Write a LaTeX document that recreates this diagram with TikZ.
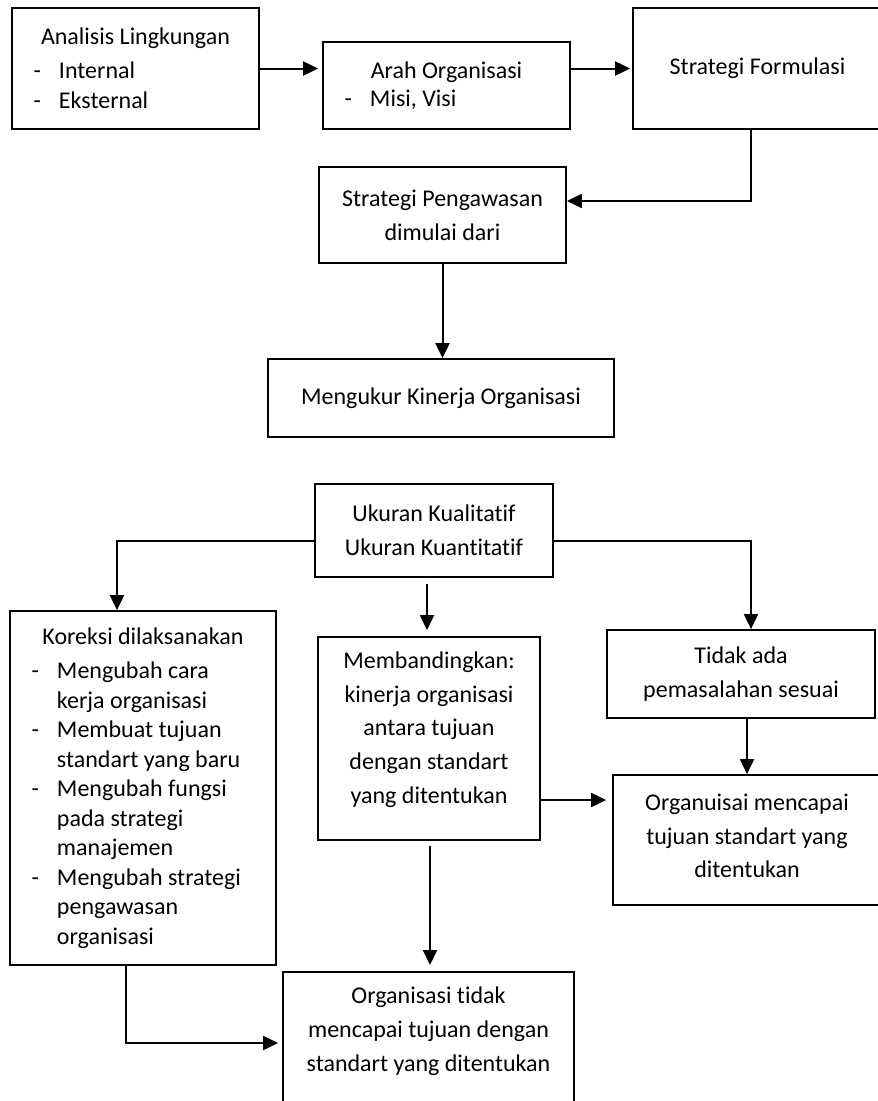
\documentclass[tikz,border=0pt]{standalone}
\usepackage{fontspec}
\setmainfont{Carlito}[Ligatures=NoCommon]
\usetikzlibrary{arrows.meta}

\tikzset{
  kotak/.style={draw, line width=1.8pt, inner sep=0pt, align=center,
    font=\fontsize{24pt}{33.7pt}\selectfont},
  daftar/.style={kotak, align=left, font=\fontsize{24pt}{29.5pt}\selectfont},
  pijl/.style={line width=2pt, -{Triangle[length=15pt,width=14pt]}},
}
% judul di tengah, lalu butir dengan tanda -
\newcommand{\judul}[1]{\spaceskip=0pt\xspaceskip=0pt\noindent\makebox[\hsize]{#1}\par}
\newcommand{\butir}[1]{\par\hangindent=47pt\hangafter=1\noindent\hspace*{21.5pt}\makebox[25.5pt][l]{-}#1\par}

\begin{document}
\begin{tikzpicture}[x=1pt,y=-1pt]
  \useasboundingbox (0,0) rectangle (878,1101);
  \clip (0,0) rectangle (878,1101);
  % baris atas
  \node[daftar, text width=247pt, minimum height=121pt] (analisis) at (135.5,68.5)
    {\judul{Analisis Lingkungan}\vspace{4.5pt}\butir{Internal}\butir{Eksternal}};
  \node[daftar, text width=247pt, minimum height=87pt] (arah) at (446.5,85.5)
    {\judul{Arah Organisasi}\vspace{-2pt}\butir{Misi, Visi}};
  \node[kotak, minimum width=249pt, minimum height=121pt] (formulasi) at (757.5,68.5)
    {Strategi Formulasi};
  \node[kotak, minimum width=247pt, minimum height=96pt] (pengawasan) at (442.5,215)
    {Strategi Pengawasan\\dimulai dari};
  \node[kotak, minimum width=346pt, minimum height=78pt] (kinerja) at (441,398)
    {Mengukur Kinerja Organisasi};
  % ukuran
  \node[kotak, minimum width=238pt, minimum height=93pt] (ukuran) at (434,530.5)
    {Ukuran Kualitatif\\Ukuran Kuantitatif};
  \node[daftar, text width=266pt, minimum height=354pt] (koreksi) at (143,788)
    {\judul{Koreksi dilaksanakan}\vspace{4.5pt}%
     \butir{Mengubah cara\newline kerja organisasi}%
     \butir{Membuat tujuan\newline standart yang baru}%
     \butir{Mengubah fungsi\newline pada strategi\newline manajemen}%
     \butir{Mengubah strategi\newline pengawasan\newline organisasi}};
  \node[kotak, minimum width=222pt, minimum height=203pt, text depth=22pt] (banding) at (429,738.5)
    {Membandingkan:\\kinerja organisasi\\antara tujuan\\dengan standart\\yang ditentukan};
  \node[kotak, minimum width=268pt, minimum height=88pt] (tidakada) at (741,674)
    {Tidak ada\\pemasalahan sesuai};
  \node[kotak, minimum width=268pt, minimum height=130pt, text depth=8pt] (capai) at (747,840)
    {Organuisai mencapai\\tujuan standart yang\\ditentukan};
  \node[kotak, minimum width=291pt, text height=99.4pt, text depth=150pt, anchor=north] (tidakcapai) at (428.5,971)
    {Organisasi tidak\\mencapai tujuan dengan\\standart yang ditentukan};
  % panah
  \draw[pijl, shorten >=4pt] (analisis.east) -- (analisis.east -| arah.west);
  \draw[pijl, shorten >=2pt] (arah.east |- formulasi.west) -- (formulasi.west);
  \draw[pijl] ([xshift=-6.5pt]formulasi.south) |- ([yshift=14pt]pengawasan.east);
  \draw[pijl] (pengawasan.south) -- (pengawasan.south |- kinerja.north);
  \draw[pijl] ([yshift=-10pt]ukuran.west) -| ([xshift=-26pt]koreksi.north);
  \draw[pijl, shorten <=6pt, shorten >=6pt] ([xshift=-2pt]banding.north |- ukuran.south) -- ([xshift=-2pt]banding.north);
  \draw[pijl] ([yshift=-10pt]ukuran.east) -| ([xshift=10pt]tidakada.north);
  \draw[pijl] (tidakada.south -| capai.north) -- (capai.north);
  \draw[pijl, shorten >=6pt] ([yshift=-61.5pt]banding.east) -- ([yshift=-61.5pt]banding.east -| capai.west);
  \draw[pijl, shorten <=5pt, shorten >=6pt] ([xshift=1pt]banding.south) -- ([xshift=1pt]banding.south |- tidakcapai.north);
  \coordinate (tekuk) at (126,1043);
  \draw[pijl, shorten >=4pt] (koreksi.south -| tekuk) |- (tekuk -| tidakcapai.west);
\end{tikzpicture}
\end{document}
